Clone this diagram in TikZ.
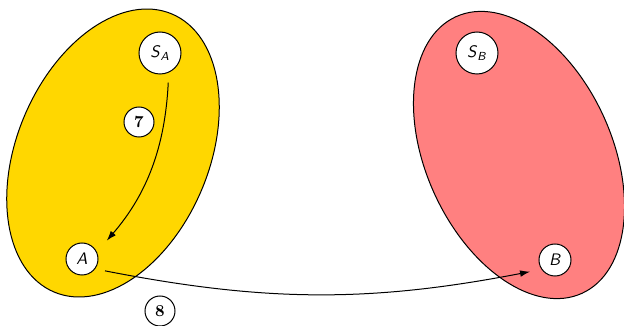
\documentclass[tikz,border=0pt]{standalone}
\usepackage{amsmath}
\usetikzlibrary{arrows.meta}
\definecolor{setyellow}{RGB}{255,215,0}
\definecolor{setred}{RGB}{255,128,128}
\newcommand\sfit[1]{\textsf{\textit{#1}}}
\begin{document}
\begin{tikzpicture}[x=0.6pt,y=-0.6pt,line width=0.6pt,
  state/.style={circle,draw,fill=white,inner sep=0pt},
  bigstate/.style={state,minimum size=25.2pt},
  smallstate/.style={state,minimum size=19.2pt},
  steptag/.style={state,minimum size=18pt,font=\bfseries},
  link/.style={-{Latex[length=6pt,width=4pt]}}]
\useasboundingbox (0,0) rectangle (624,326);

% the two regions
\draw[fill=setyellow,rotate around={-23:(113,153)}] (113,153) ellipse [x radius=96, y radius=151];
\draw[fill=setred,rotate around={24.5:(519,155)}] (519,155) ellipse [x radius=93, y radius=152];

% states
\node[bigstate] (SA) at (160,53) {$\sfit{S}_{\sfit{A}}$};
\node[bigstate] (SB) at (477,53) {$\sfit{S}_{\sfit{B}}$};
\node[smallstate] (A) at (82,259) {$\sfit{A}$};
\node[smallstate] (B) at (555,260) {$\sfit{B}$};

% step labels
\node[steptag] (t7) at (139,122) {7};
\node[steptag] (t8) at (160,311) {8};

% transitions
\draw[link,shorten <=6pt,shorten >=9pt] (SA.-66) to[bend left=19] (A.25);
\draw[link,shorten <=6pt,shorten >=7pt] (A.-37) to[bend right=11] (B.215);
\end{tikzpicture}
\end{document}
